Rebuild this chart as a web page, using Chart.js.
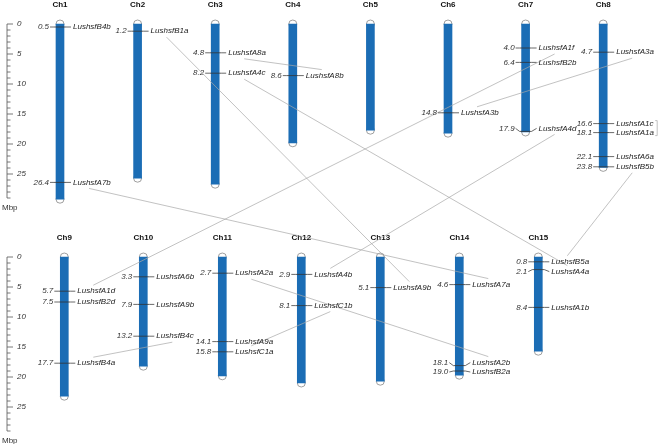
<!DOCTYPE html>
<html>
<head>
<meta charset="utf-8">
<script src="https://cdn.jsdelivr.net/npm/chart.js@4.4.1/dist/chart.umd.min.js"></script>
<style>
  html, body { margin: 0; padding: 0; background: #fff; }
  #map { display: block; }
</style>
</head>
<body>
<canvas id="map" width="659" height="444"></canvas>
<script>
// chromosomes and lengths (Mbp)
const chromosomes = ['Ch1','Ch2','Ch3','Ch4','Ch5','Ch6','Ch7','Ch8','Ch9','Ch10','Ch11','Ch12','Ch13','Ch14','Ch15'];
const chromLengths = [29.2, 25.7, 26.7, 19.8, 17.7, 18.2, 18.0, 23.9, 23.2, 18.2, 19.8, 21.0, 20.7, 19.7, 15.7];

// HSF genes: chromosome index, position (Mbp), name
const geneChrom = [0, 0, 1, 2, 2, 3, 5, 6, 6, 6, 7, 7, 7, 7, 7, 8, 8, 8, 9, 9, 9, 10, 10, 10, 11, 11, 12, 13, 13, 13, 14, 14, 14];
const genePos = [0.5, 26.4, 1.2, 4.8, 8.2, 8.6, 14.8, 4.0, 6.4, 17.9, 4.7, 16.6, 18.1, 22.1, 23.8, 5.7, 7.5, 17.7, 3.3, 7.9, 13.2, 2.7, 14.1, 15.8, 2.9, 8.1, 5.1, 4.6, 18.1, 19.0, 0.8, 2.1, 8.4];
const geneNames = ['LushsfB4b','LushsfA7b','LushsfB1a','LushsfA8a','LushsfA4c','LushsfA8b','LushsfA3b','LushsfA1f','LushsfB2b','LushsfA4d',
  'LushsfA3a','LushsfA1c','LushsfA1a','LushsfA6a','LushsfB5b','LushsfA1d','LushsfB2d','LushsfB4a','LushsfA6b','LushsfA9b','LushsfB4c',
  'LushsfA2a','LushsfA9a','LushsfC1a','LushsfA4b','LushsfC1b','LushsfA9b','LushsfA7a','LushsfA2b','LushsfB2a','LushsfB5a','LushsfA4a','LushsfA1b'];

// duplicated pairs (gene indices)
const segmentalPairs = [[3, 5], [2, 26], [4, 31], [1, 27], [6, 10], [7, 15], [9, 24], [14, 30], [20, 17], [21, 28], [25, 23]];
const tandemPairs = [[11, 12]];

// ruler ticks (Mbp)
const rulerTicks = [0,1,2,3,4,5,6,7,8,9,10,11,12,13,14,15,16,17,18,19,20,21,22,23,24,25,26,27,28,29];

// layout
const W = 659, H = 444;
const TOP_COUNT = 8;
const topX0 = 60, topStep = 77.6, botX0 = 64.3, botStep = 79;
const topY0 = 24, botY0 = 257, pxPerMbp = 6;
const labelNudge = {9: -3, 28: -3, 29: 1, 31: 2};
const BLUE = '#1b6db5';

const isTop = c => c < TOP_COUNT;
const slot = c => (isTop(c) ? c : c - TOP_COUNT);

function bodies(top) {
  return chromLengths.map((len, c) => ({c, len})).filter(d => isTop(d.c) === top)
    .map(d => ({x: slot(d.c), y: [0, d.len]}));
}
function caps(top) {
  return chromLengths.map((len, c) => ({c, len})).filter(d => isTop(d.c) === top)
    .flatMap(d => [{x: slot(d.c), y: 0}, {x: slot(d.c), y: d.len}]);
}
function genes(top) {
  return genePos.map((p, g) => ({c: geneChrom[g], p})).filter(d => isTop(d.c) === top)
    .map(d => ({x: slot(d.c), y: d.p}));
}

const mapPlugin = {
  id: 'chromMap',
  afterDatasetsDraw(chart) {
    const ctx = chart.ctx;
    const s = chart.scales;
    const px = c => (isTop(c) ? s.xTop : s.xBot).getPixelForValue(slot(c));
    const py = (c, v) => (isTop(c) ? s.yTop : s.yBot).getPixelForValue(v);
    const labelY = g => py(geneChrom[g], genePos[g]) + (labelNudge[g] || 0);
    ctx.save();

    // rulers
    [s.yTop, s.yBot].forEach(ys => {
      const x = 7;
      ctx.strokeStyle = '#555';
      ctx.lineWidth = 0.8;
      ctx.beginPath();
      ctx.moveTo(x, ys.getPixelForValue(rulerTicks[0]));
      ctx.lineTo(x, ys.getPixelForValue(rulerTicks[rulerTicks.length - 1]));
      rulerTicks.forEach(t => {
        const y = ys.getPixelForValue(t);
        ctx.moveTo(x, y);
        ctx.lineTo(x + (t % 5 === 0 ? 6 : 3.5), y);
      });
      ctx.stroke();
      ctx.fillStyle = '#333';
      ctx.font = 'italic 8px "Liberation Sans", Arial, sans-serif';
      ctx.textAlign = 'left';
      ctx.textBaseline = 'middle';
      rulerTicks.filter(t => t % 5 === 0).forEach(t => ctx.fillText(String(t), 17, ys.getPixelForValue(t)));
      ctx.font = '8px "Liberation Sans", Arial, sans-serif';
      ctx.fillText('Mbp', 2, ys.getPixelForValue(rulerTicks[rulerTicks.length - 1]) + 10);
    });

    // chromosome titles
    ctx.font = 'bold 8px "Liberation Sans", Arial, sans-serif';
    ctx.fillStyle = '#111';
    ctx.textAlign = 'center';
    chromosomes.forEach((name, c) => ctx.fillText(name, px(c), py(c, 0) - 19));

    // duplication links
    ctx.strokeStyle = '#a8a8a8';
    ctx.lineWidth = 0.7;
    segmentalPairs.forEach(([a, b]) => {
      const ya = labelY(a), yb = labelY(b);
      const ax = px(geneChrom[a]) + 29, bx = px(geneChrom[b]) + 29;
      ctx.beginPath();
      ctx.moveTo(ax, ya + (yb > ya ? 6 : -6));
      ctx.lineTo(bx, yb + (ya > yb ? 6 : -6));
      ctx.stroke();
    });
    tandemPairs.forEach(([a, b]) => {
      const x = px(geneChrom[a]) + 54;
      const y1 = labelY(a) - 3, y2 = labelY(b) + 3;
      ctx.beginPath();
      ctx.moveTo(x - 2, y1); ctx.lineTo(x, y1); ctx.lineTo(x, y2); ctx.lineTo(x - 2, y2);
      ctx.stroke();
    });

    // gene labels
    ctx.font = 'italic 8px "Liberation Sans", Arial, sans-serif';
    ctx.textBaseline = 'middle';
    geneNames.forEach((name, g) => {
      const c = geneChrom[g];
      const x = px(c), y = py(c, genePos[g]), yl = labelY(g);
      ctx.strokeStyle = '#444';
      ctx.lineWidth = 0.8;
      ctx.beginPath();
      ctx.moveTo(x - 6, y); ctx.lineTo(x - 10, yl);
      ctx.moveTo(x + 6, y); ctx.lineTo(x + 11, yl);
      ctx.stroke();
      ctx.fillStyle = '#333';
      ctx.textAlign = 'right';
      ctx.fillText(genePos[g].toFixed(1), x - 11, yl);
      ctx.fillStyle = '#222';
      ctx.textAlign = 'left';
      ctx.fillText(name, x + 13, yl);
    });
    ctx.restore();
  }
};

const chart = new Chart(document.getElementById('map').getContext('2d'), {
  type: 'bar',
  data: {
    datasets: [
      { type: 'bar', data: bodies(true), xAxisID: 'xTop', yAxisID: 'yTop', backgroundColor: BLUE, barThickness: 8, grouped: false, order: 2 },
      { type: 'bar', data: bodies(false), xAxisID: 'xBot', yAxisID: 'yBot', backgroundColor: BLUE, barThickness: 8, grouped: false, order: 2 },
      { type: 'scatter', data: caps(true), xAxisID: 'xTop', yAxisID: 'yTop', pointRadius: 4, pointBackgroundColor: '#fff', pointBorderColor: '#888', pointBorderWidth: 0.8, order: 3 },
      { type: 'scatter', data: caps(false), xAxisID: 'xBot', yAxisID: 'yBot', pointRadius: 4, pointBackgroundColor: '#fff', pointBorderColor: '#888', pointBorderWidth: 0.8, order: 3 },
      { type: 'scatter', data: genes(true), xAxisID: 'xTop', yAxisID: 'yTop', pointStyle: 'line', pointRadius: 6, pointBorderColor: '#333', pointBorderWidth: 0.8, order: 1 },
      { type: 'scatter', data: genes(false), xAxisID: 'xBot', yAxisID: 'yBot', pointStyle: 'line', pointRadius: 6, pointBorderColor: '#333', pointBorderWidth: 0.8, order: 1 }
    ]
  },
  options: {
    responsive: false,
    animation: false,
    events: [],
    layout: { padding: 0, autoPadding: false },
    scales: {
      xTop: { type: 'linear', display: false, offset: false, min: -topX0 / topStep, max: (W - topX0) / topStep },
      xBot: { type: 'linear', display: false, offset: false, min: -botX0 / botStep, max: (W - botX0) / botStep },
      yTop: { type: 'linear', display: false, reverse: true, min: -topY0 / pxPerMbp, max: (H - topY0) / pxPerMbp },
      yBot: { type: 'linear', display: false, reverse: true, min: -botY0 / pxPerMbp, max: (H - botY0) / pxPerMbp }
    },
    plugins: {
      legend: { display: false },
      tooltip: { enabled: false }
    }
  },
  plugins: [mapPlugin]
});
</script>
</body>
</html>
